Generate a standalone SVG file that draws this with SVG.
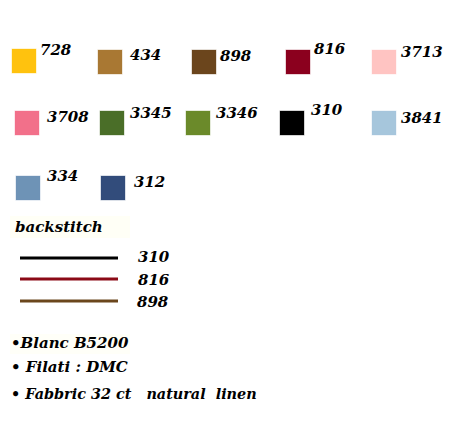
<svg xmlns="http://www.w3.org/2000/svg" width="460" height="436" viewBox="0 0 460 436">
<style>
text{font-family:"DejaVu Serif","Liberation Serif",serif;font-weight:bold;font-style:italic;font-size:15px;fill:#000}
.sw{stroke-width:1;stroke-opacity:0.35}
.bs{stroke-width:3;fill:none}
</style>
<rect width="460" height="436" fill="#fff"/>
<g id="n728"><rect class="sw" x="12" y="49" width="24" height="24" fill="#FFC20E" stroke="#FFC20E"/><text x="40" y="55">728</text></g>
<g id="n434"><rect class="sw" x="98" y="50" width="24" height="24" fill="#A97833" stroke="#A97833"/><text x="130" y="60">434</text></g>
<g id="n898"><rect class="sw" x="192" y="50" width="24" height="24" fill="#6B451C" stroke="#6B451C"/><text x="220" y="61">898</text></g>
<g id="n816"><rect class="sw" x="286" y="50" width="24" height="24" fill="#8B001E" stroke="#8B001E"/><text x="314" y="54">816</text></g>
<g id="n3713"><rect class="sw" x="372" y="50" width="24" height="24" fill="#FFC4C2" stroke="#FFC4C2"/><text x="401" y="57">3713</text></g>
<g id="n3708"><rect class="sw" x="15" y="111" width="24" height="24" fill="#F2708A" stroke="#F2708A"/><text x="47" y="122">3708</text></g>
<g id="n3345"><rect class="sw" x="100" y="111" width="24" height="24" fill="#4A6E28" stroke="#4A6E28"/><text x="130" y="118">3345</text></g>
<g id="n3346"><rect class="sw" x="186" y="111" width="24" height="24" fill="#6B8A2A" stroke="#6B8A2A"/><text x="216" y="118">3346</text></g>
<g id="n310"><rect class="sw" x="280" y="111" width="24" height="24" fill="#000" stroke="#000"/><text x="311" y="115">310</text></g>
<g id="n3841"><rect class="sw" x="372" y="111" width="24" height="24" fill="#A6C6DC" stroke="#A6C6DC"/><text x="401" y="123">3841</text></g>
<g id="n334"><rect class="sw" x="16" y="176" width="24" height="24" fill="#6E93B6" stroke="#6E93B6"/><text x="47" y="181">334</text></g>
<g id="n312"><rect class="sw" x="101" y="176" width="24" height="24" fill="#324C7B" stroke="#324C7B"/><text x="134" y="187">312</text></g>
<g id="backstitch"><rect x="10" y="216" width="120" height="22" fill="#FFFFF6"/><text x="15" y="232">backstitch</text></g>
<g id="connectors">
<line class="bs" x1="20" y1="258" x2="118" y2="258" stroke="#000"/>
<line class="bs" x1="20" y1="279" x2="118" y2="279" stroke="#8B0A16"/>
<line class="bs" x1="20" y1="301" x2="118" y2="301" stroke="#6B461C"/>
</g>
<g id="bslabels">
<text x="138" y="262">310</text>
<text x="138" y="285">816</text>
<text x="137" y="307">898</text>
</g>
<g id="notes">
<rect x="10" y="334" width="120" height="20" fill="#FFFFF8"/>
<text x="11" y="348">•Blanc B5200</text>
<text x="11" y="372">• Filati : DMC</text>
<text x="11" y="399" style="font-size:14.4px" xml:space="preserve">• Fabbric 32 ct   natural  linen</text>
</g>
</svg>
